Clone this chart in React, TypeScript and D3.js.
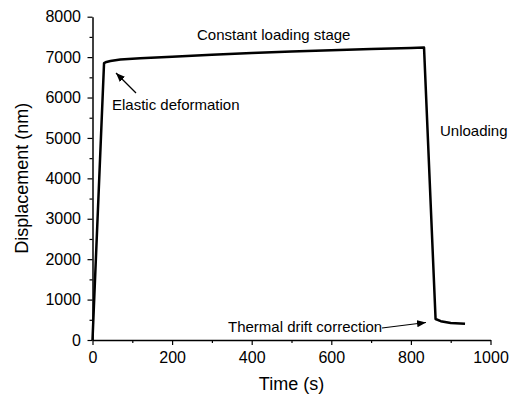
import React, { useEffect, useRef } from "react";
import * as d3 from "d3";

// Displacement vs time
const timeS = [0, 29, 35, 45, 70, 120, 200, 300, 400, 500, 600, 700, 800, 833, 862, 875, 900, 936];
const dispNm = [0, 6850, 6880, 6905, 6940, 6972, 7010, 7060, 7100, 7140, 7170, 7200, 7225, 7235, 520, 465, 420, 400];

const xTicks = [0, 200, 400, 600, 800, 1000];
const xMinor = [100, 300, 500, 700, 900];
const yTicks = [0, 1000, 2000, 3000, 4000, 5000, 6000, 7000, 8000];
const yMinor = [500, 1500, 2500, 3500, 4500, 5500, 6500, 7500];

const FONT = "'Liberation Sans', Arial, sans-serif";

const App = () => {
  const ref = useRef<SVGSVGElement | null>(null);

  useEffect(() => {
    const svg = d3.select(ref.current);
    svg.selectAll("*").remove();

    const width = 509;
    const height = 397;
    const x = d3.scaleLinear().domain([0, 1000]).range([92.5, 490.5]);
    const y = d3.scaleLinear().domain([0, 8000]).range([340, 16.7]);

    // arrow head
    svg
      .append("defs")
      .append("marker")
      .attr("id", "arrow")
      .attr("viewBox", "0 0 10 10")
      .attr("refX", 10)
      .attr("refY", 5)
      .attr("markerWidth", 9)
      .attr("markerHeight", 9)
      .attr("markerUnits", "userSpaceOnUse")
      .attr("orient", "auto")
      .append("path")
      .attr("d", "M0,1 L10,5 L0,9 Z")
      .attr("fill", "#000");

    svg.attr("width", width).attr("height", height);

    // minor ticks
    const gx = svg.append("g").attr("transform", `translate(0,${y(0)})`);
    gx.call(d3.axisBottom(x).tickValues(xMinor).tickSize(3).tickFormat(() => ""));
    gx.select(".domain").remove();
    const gy = svg.append("g").attr("transform", `translate(${x(0)},0)`);
    gy.call(d3.axisLeft(y).tickValues(yMinor).tickSize(3).tickFormat(() => ""));
    gy.select(".domain").remove();

    // major axes
    const fmt = d3.format("d");
    const xAxis = svg
      .append("g")
      .attr("transform", `translate(0,${y(0)})`)
      .call(
        d3.axisBottom(x).tickValues(xTicks).tickFormat(fmt).tickSize(5).tickSizeOuter(0).tickPadding(7)
      );
    const yAxis = svg
      .append("g")
      .attr("transform", `translate(${x(0)},0)`)
      .call(
        d3.axisLeft(y).tickValues(yTicks).tickFormat(fmt).tickSize(5).tickSizeOuter(0).tickPadding(6.5)
      );

    svg.selectAll(".tick line").attr("stroke", "#000").attr("stroke-width", 1.2);
    svg.selectAll(".domain").attr("stroke", "#000").attr("stroke-width", 1.5);
    [xAxis, yAxis].forEach((g) =>
      g.selectAll("text").attr("font-family", FONT).attr("font-size", 16).attr("fill", "#000")
    );

    // curve
    const pts = timeS.map((t, i) => [t, dispNm[i]] as [number, number]);
    svg
      .append("path")
      .datum(pts)
      .attr("fill", "none")
      .attr("stroke", "#000")
      .attr("stroke-width", 2.5)
      .attr("stroke-linejoin", "round")
      .attr(
        "d",
        d3
          .line<[number, number]>()
          .x((d) => x(d[0]))
          .y((d) => y(d[1]))
      );

    // axis titles
    svg
      .append("text")
      .attr("x", (x(0) + x(1000)) / 2)
      .attr("y", 390)
      .attr("text-anchor", "middle")
      .attr("font-family", FONT)
      .attr("font-size", 18)
      .text("Time (s)");

    svg
      .append("text")
      .attr("transform", `translate(28,${(y(0) + y(8000)) / 2}) rotate(-90)`)
      .attr("text-anchor", "middle")
      .attr("font-family", FONT)
      .attr("font-size", 18)
      .text("Displacement (nm)");

    // annotations
    const note = (tx: number, ty: number, s: string) =>
      svg
        .append("text")
        .attr("x", tx)
        .attr("y", ty)
        .attr("font-family", FONT)
        .attr("font-size", 15)
        .text(s);

    note(197, 40, "Constant loading stage");
    note(112, 110, "Elastic deformation");
    note(440, 136, "Unloading");
    note(228, 332, "Thermal drift correction");

    const arrow = (x1: number, y1: number, x2: number, y2: number) =>
      svg
        .append("line")
        .attr("x1", x1)
        .attr("y1", y1)
        .attr("x2", x2)
        .attr("y2", y2)
        .attr("stroke", "#000")
        .attr("stroke-width", 1.2)
        .attr("marker-end", "url(#arrow)");

    arrow(136, 93, 116, 73);
    arrow(382, 328, 426, 322.5);
  }, []);

  return (
    <svg
      ref={ref}
      style={{ position: "absolute", left: 0, top: 0, background: "#fff" }}
    />
  );
};

export default App;
